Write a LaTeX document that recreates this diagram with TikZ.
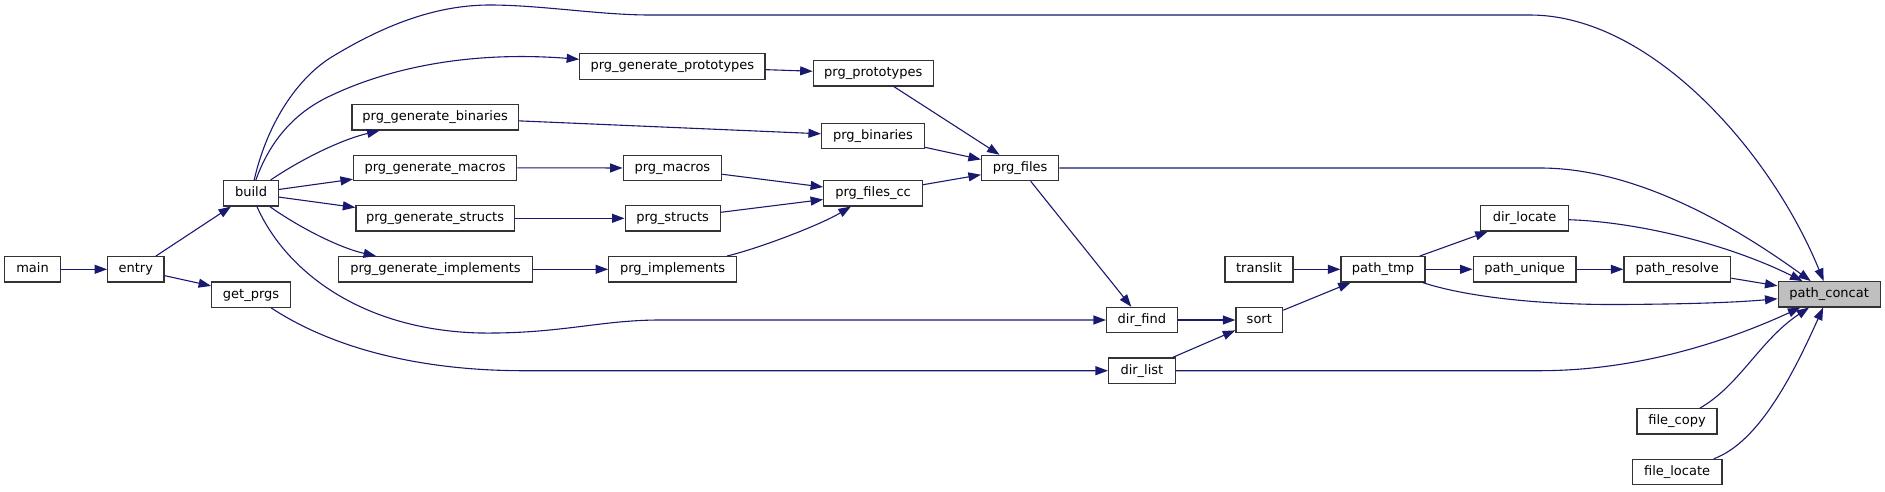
\documentclass[tikz,border=0pt]{standalone}
\usepackage{fontspec}
\setmainfont{DejaVu Sans}
\usetikzlibrary{arrows.meta}
\definecolor{edgeblue}{RGB}{25,25,112}
\definecolor{focusgrey}{RGB}{191,191,191}
\definecolor{boxline}{RGB}{51,51,51}
\begin{document}
\begin{tikzpicture}[x=1pt,y=-1pt,
  fn/.style={draw=boxline, line width=1.2pt, fill=white, minimum height=25.3pt,
    inner sep=0pt, text height=9.5pt, text depth=2.8pt,
    font=\fontsize{13}{15}\selectfont},
  focus/.style={fn, fill=focusgrey},
  call/.style={draw=edgeblue, line width=1.1pt, -{Triangle[length=12.5pt,width=9pt]}}]
\useasboundingbox (0,0) rectangle (1885,491);

% nodes
\node[fn, minimum width=55.5pt]  (main)    at (32.5,269.3)  {main};
\node[fn, minimum width=56.2pt]  (entry)   at (135.8,269.3) {entry};
\node[fn, minimum width=54.6pt]  (build)   at (251.1,193.3) {build};
\node[fn, minimum width=78.8pt]  (getprgs) at (251.1,294.7) {get\_prgs};
\node[fn, minimum width=185.3pt] (gproto)  at (672.4,66.5)  {prg\_generate\_prototypes};
\node[fn, minimum width=166.4pt] (gbin)    at (435.1,117.3) {prg\_generate\_binaries};
\node[fn, minimum width=163.1pt] (gmac)    at (435.1,167.8) {prg\_generate\_macros};
\node[fn, minimum width=158.3pt] (gstr)    at (435.1,218.3) {prg\_generate\_structs};
\node[fn, minimum width=193.6pt] (gimp)    at (435.5,269.3) {prg\_generate\_implements};
\node[fn, minimum width=120.1pt] (pproto)  at (873.3,73.3)  {prg\_prototypes};
\node[fn, minimum width=102.9pt] (pbin)    at (873,136)     {prg\_binaries};
\node[fn, minimum width=98.5pt]  (pmac)    at (672.4,168)   {prg\_macros};
\node[fn, minimum width=95pt]    (pstr)    at (672.6,218.3) {prg\_structs};
\node[fn, minimum width=127.8pt] (pimp)    at (672.6,269.3) {prg\_implements};
\node[fn, minimum width=98.8pt]  (pfcc)    at (873.1,193.3) {prg\_files\_cc};
\node[fn, minimum width=77.2pt]  (pfiles)  at (1020.1,168)  {prg\_files};
\node[fn, minimum width=70.7pt]  (dfind)   at (1141.9,320)  {dir\_find};
\node[fn, minimum width=66.7pt]  (dlist)   at (1141.9,370.7){dir\_list};
\node[fn, minimum width=68pt]    (translit) at (1259,269.3) {translit};
\node[fn, minimum width=46.8pt]  (sort)    at (1259.3,320)  {sort};
\node[fn, minimum width=84.1pt]  (ptmp)    at (1383,269.3)  {path\_tmp};
\node[fn, minimum width=87.3pt]  (dloc)    at (1524.5,218.3){dir\_locate};
\node[fn, minimum width=102.9pt] (puniq)   at (1524.6,269.3){path\_unique};
\node[fn, minimum width=106.8pt] (pres)    at (1677.3,269.3){path\_resolve};
\node[focus, minimum width=102pt] (pconcat) at (1829.1,294.3){path\_concat};
\node[fn, minimum width=80.1pt]  (fcopy)   at (1677,421.3)  {file\_copy};
\node[fn, minimum width=89.6pt]  (flocate) at (1677.1,472)  {file\_locate};

% edges
\draw[call] (main) -- (entry);
\draw[call] (entry) -- (build);
\draw[call] (entry) -- (getprgs);
\draw[call] (build) .. controls (300,160) and (340,140) .. (gbin);
\draw[call] (build) -- (gmac);
\draw[call] (build) -- (gstr);
\draw[call] (build) .. controls (300,228) and (340,248) .. (gimp);
\draw[call] (build) .. controls (272,135) and (300,110) .. (330,96)
   .. controls (380,72) and (460,50) .. (gproto);
\draw[call] (build) .. controls (268,120) and (300,75) .. (335,55)
   .. controls (390,22) and (440,5) .. (490,5)
   .. controls (540,5) and (600,15) .. (650,15) -- (1530,15)
   .. controls (1650,15) and (1770,150) .. (pconcat);
\draw[call] (build) .. controls (285,270) and (360,330) .. (480,333)
   .. controls (560,334) and (600,320) .. (660,320) -- (dfind);
\draw[call] (getprgs) .. controls (320,340) and (400,370) .. (520,370.7) -- (dlist);
\draw[call] (gproto) -- (pproto);
\draw[call] (gbin) -- (pbin);
\draw[call] (gmac) -- (pmac);
\draw[call] (gstr) -- (pstr);
\draw[call] (gimp) -- (pimp);
\draw[call] (pproto) -- (pfiles);
\draw[call] (pbin) -- (pfiles);
\draw[call] (pmac) -- (pfcc);
\draw[call] (pstr) -- (pfcc);
\draw[call] (pimp) .. controls (760,248) and (820,225) .. (pfcc);
\draw[call] (pfcc) -- (pfiles);
\draw[call] (pfiles) -- (1540,168) .. controls (1640,168) and (1740,230) .. (pconcat);
\draw[call] (pfiles) -- (dfind);
\draw[call] (dfind) -- (sort);
\draw[call] (dlist) -- (sort);
\draw[call] (dlist) -- (1540,370.7) .. controls (1640,370.7) and (1730,340) .. (pconcat);
\draw[call] (sort) -- (ptmp);
\draw[call] (translit) -- (ptmp);
\draw[call] (ptmp) -- (dloc);
\draw[call] (ptmp) -- (puniq);
\draw[call] (ptmp) .. controls (1460,295) and (1530,305) .. (1620,304.5)
   .. controls (1700,304) and (1740,302) .. (pconcat);
\draw[call] (dloc) .. controls (1640,222) and (1730,245) .. (pconcat);
\draw[call] (puniq) -- (pres);
\draw[call] (pres) -- (pconcat);
\draw[call] (fcopy) .. controls (1740,385) and (1760,340) .. (pconcat);
\draw[call] (flocate) .. controls (1760,442) and (1795,370) .. (pconcat);
\end{tikzpicture}
\end{document}
